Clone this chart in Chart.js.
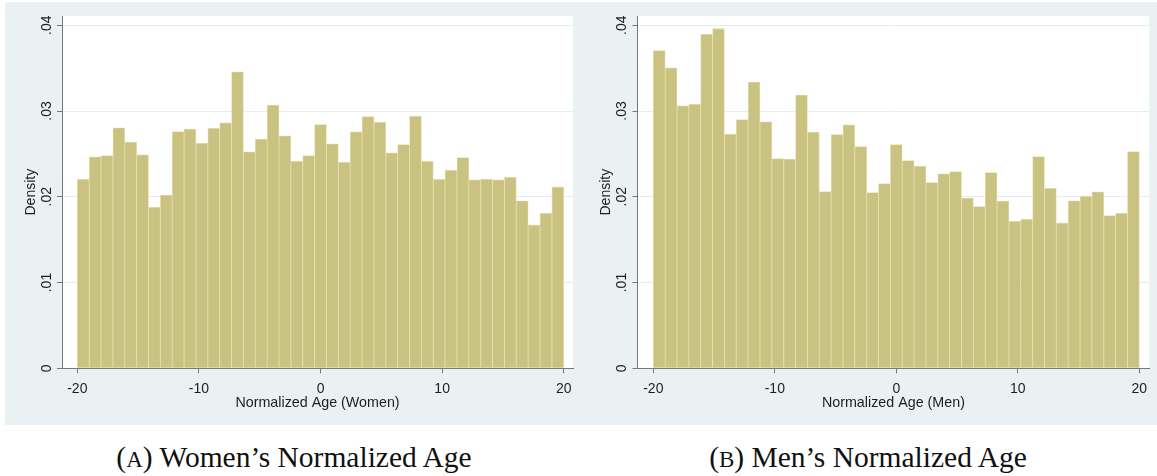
<!DOCTYPE html>
<html>
<head>
<meta charset="utf-8">
<script src="https://cdn.jsdelivr.net/npm/chart.js@4.4.1/dist/chart.umd.min.js"></script>
<style>
  html, body { margin: 0; padding: 0; background: #fff; }
  body { width: 1157px; height: 476px; position: relative; overflow: hidden; }
  #strip { position: absolute; left: 5px; top: 2px; width: 1152px; height: 423px; background: #eaf1f3; }
  .panel { position: absolute; top: 2px; height: 423px; }
  #pa { left: 5px; width: 575px; }
  #pb { left: 580px; width: 577px; }
  .cap { position: absolute; top: 438px; line-height: 38px; font-family: "Liberation Serif", "Times New Roman", serif;
         font-size: 29.5px; color: #111; white-space: nowrap; transform: translateX(-50%); }
  .sc { font-size: 0.78em; }
</style>
</head>
<body>
<div id="strip"></div>
<div class="panel" id="pa"><canvas id="ca" width="575" height="423"></canvas></div>
<div class="panel" id="pb"><canvas id="cb" width="577" height="423"></canvas></div>
<div class="cap" style="left:294px">(<span class="sc">A</span>) Women’s Normalized Age</div>
<div class="cap" style="left:868px">(<span class="sc">B</span>) Men’s Normalized Age</div>

<script>
// Histogram bins: 41 equal-width bins spanning -20 .. 20
const binStart = -20;
const binCount = 41;
const binWidth = 40 / binCount;
const ageBins = Array.from({ length: binCount }, (_, i) => +(binStart + (i + 0.5) * binWidth).toFixed(4));

// Density per bin
const womenDensity = [
  0.02205, 0.02466, 0.02480, 0.02804, 0.02637, 0.02489, 0.01879, 0.02019, 0.02760, 0.02789,
  0.02625, 0.02800, 0.02862, 0.03457, 0.02524, 0.02672, 0.03069, 0.02710, 0.02415, 0.02480,
  0.02843, 0.02617, 0.02403, 0.02757, 0.02936, 0.02870, 0.02512, 0.02609, 0.02940, 0.02415,
  0.02205, 0.02310, 0.02457, 0.02197, 0.02205, 0.02197, 0.02228, 0.01952, 0.01672, 0.01808,
  0.02115
];
const menDensity = [
  0.03706, 0.03504, 0.03060, 0.03080, 0.03895, 0.03960, 0.02730, 0.02900, 0.03337, 0.02874,
  0.02446, 0.02439, 0.03186, 0.02754, 0.02061, 0.02726, 0.02839, 0.02586, 0.02049, 0.02154,
  0.02609, 0.02422, 0.02357, 0.02166, 0.02267, 0.02294, 0.01984, 0.01886, 0.02282, 0.01949,
  0.01715, 0.01739, 0.02469, 0.02100, 0.01695, 0.01952, 0.02007, 0.02057, 0.01781, 0.01809,
  0.02528
];

const xTicks = [-20, -10, 0, 10, 20];
const yTicks = [0, 0.01, 0.02, 0.03, 0.04];
const yTitle = 'Density';
const xTitles = ['Normalized Age (Women)', 'Normalized Age (Men)'];

const barFill = 'rgb(201,194,128)';
const barEdge = 'rgb(228,224,172)';
const axisColor = '#777777';
const gridColor = '#e4ecef';
const textColor = '#1e1e1e';
const font = { family: '"Liberation Sans", Arial, sans-serif', size: 14 };

const yLabel = v => (v === 0 ? '0' : v.toFixed(2).replace(/^0/, ''));

// White plot region behind the bars
const plotRegion = {
  id: 'plotRegion',
  beforeDraw(chart) {
    const { ctx, chartArea: a } = chart;
    ctx.save();
    ctx.fillStyle = '#ffffff';
    ctx.fillRect(a.left, a.top, a.right - a.left, a.bottom - a.top);
    ctx.restore();
  }
};

// Vertical (rotated) y tick labels placed at the scale's tick positions
const rotatedYLabels = {
  id: 'rotatedYLabels',
  afterDraw(chart) {
    const { ctx } = chart;
    const y = chart.scales.y;
    ctx.save();
    ctx.fillStyle = textColor;
    ctx.font = `${font.size}px ${font.family}`;
    ctx.textAlign = 'center';
    ctx.textBaseline = 'middle';
    y.ticks.forEach(t => {
      const py = y.getPixelForValue(t.value);
      ctx.save();
      ctx.translate(y.right - 15, py);
      ctx.rotate(-Math.PI / 2);
      ctx.fillText(yLabel(t.value), 0, 0);
      ctx.restore();
    });
    ctx.restore();
  }
};

function histogram(canvas, values, xTitle, xMin, xMax, padRight, yAxisWidth) {
  return new Chart(canvas, {
    type: 'bar',
    data: {
      datasets: [{
        data: ageBins.map((x, i) => ({ x, y: values[i] })),
        backgroundColor: barFill,
        borderColor: barEdge,
        borderWidth: 0.8,
        borderSkipped: false,
        categoryPercentage: 1,
        barPercentage: 1
      }]
    },
    options: {
      responsive: false,
      animation: false,
      events: [],
      layout: { padding: { top: 14, right: padRight, bottom: 0, left: 0 } },
      plugins: { legend: { display: false }, tooltip: { enabled: false } },
      scales: {
        x: {
          type: 'linear',
          offset: false,
          min: xMin,
          max: xMax,
          afterBuildTicks: s => { s.ticks = xTicks.map(v => ({ value: v })); },
          afterFit: s => { s.height = 56.7; },
          grid: { offset: false, drawOnChartArea: false, tickLength: 5, tickColor: axisColor },
          border: { display: true, color: axisColor, width: 1 },
          ticks: { color: textColor, font, padding: 7, maxRotation: 0, autoSkip: false },
          title: { display: true, text: xTitle, color: textColor, font: { ...font, size: 14.3 }, padding: { top: 0, bottom: 13 } }
        },
        y: {
          min: 0,
          max: 0.04108,
          afterBuildTicks: s => { s.ticks = yTicks.map(v => ({ value: v })); },
          afterFit: s => { s.width = yAxisWidth; },
          grid: { color: gridColor, tickColor: axisColor, tickLength: 5, lineWidth: 1 },
          border: { display: true, color: axisColor, width: 1 },
          ticks: { display: false },
          title: { display: true, text: yTitle, color: textColor, font, padding: { top: 17.6, bottom: 0 } }
        }
      }
    },
    plugins: [plotRegion, rotatedYLabels]
  });
}

histogram(document.getElementById('ca'), womenDensity, xTitles[0], -21.26, 20.76, 7, 57);
histogram(document.getElementById('cb'), menDensity, xTitles[1], -21.3, 20.82, 7.7, 57.5);
</script>
</body>
</html>
